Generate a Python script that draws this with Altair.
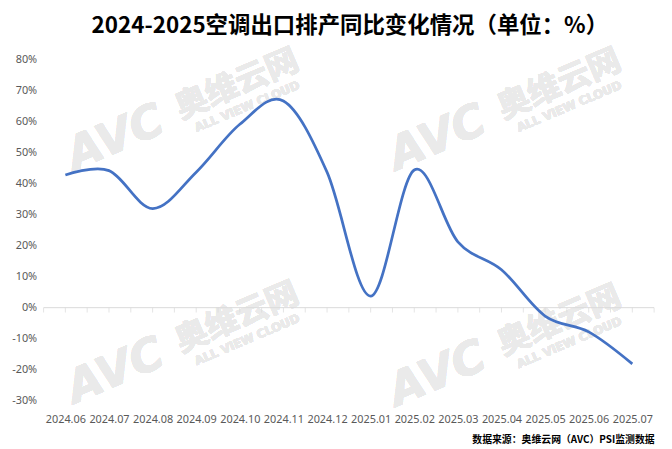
import altair as alt
import pandas as pd

months = ["2024.06", "2024.07", "2024.08", "2024.09", "2024.10", "2024.11", "2024.12",
          "2025.01", "2025.02", "2025.03", "2025.04", "2025.05", "2025.06", "2025.07"]
values = [42.7, 44.1, 31.9, 43.6, 59.0, 66.5, 43.6, 3.7, 44.3, 21.2, 12.2, -2.7, -7.8, -18.1]
y_ticks = [-30, -20, -10, 0, 10, 20, 30, 40, 50, 60, 70, 80]

title_text = "2024-2025空调出口排产同比变化情况（单位：%）"
source_text = "数据来源：奥维云网（AVC）PSI监测数据"

n = len(months)
df = pd.DataFrame({"idx": list(range(n)), "month": months, "value": values})
tick_df = pd.DataFrame({"pos": [i / 2 - 0.5 for i in range(2 * n + 1)], "zero": 0})
zero_df = pd.DataFrame({"x0": [-0.5], "x1": [n - 0.5], "y": [0]})

label_expr = "[" + ",".join("'%s'" % m for m in months) + "][datum.value]"

W, H = 618, 346
xscale = alt.Scale(domain=[-0.5, n - 0.5], nice=False, zero=False)
yscale = alt.Scale(domain=[-30, 80], nice=False)

GREY = "#595959"
AXC = "#D9D9D9"

x_axis = alt.Axis(values=list(range(n)), labelExpr=label_expr,
                  title=source_text, titleAnchor="end", titleAlign="right",
                  titleFontSize=10, titleFontWeight="bold", titleColor="#000000",
                  titleFont="Noto Sans CJK SC", titlePadding=10,
                  grid=False, domain=False, ticks=False,
                  labelFontSize=11, labelColor=GREY, labelFont="Noto Sans",
                  labelPadding=13, labelFlush=False, labelOverlap=False)
y_axis = alt.Axis(values=y_ticks, labelExpr="datum.value + '%'", title=None,
                  grid=False, domain=False, ticks=False,
                  labelFontSize=11, labelColor=GREY, labelFont="Noto Sans",
                  labelPadding=7, labelOverlap=False, labelFlush=False)

line = alt.Chart(df).mark_line(
    interpolate="cardinal", color="#4472C4", strokeWidth=2.75
).encode(
    x=alt.X("idx:Q", scale=xscale, axis=x_axis),
    y=alt.Y("value:Q", scale=yscale, axis=y_axis),
)

zero_rule = alt.Chart(zero_df).mark_rule(color=AXC, strokeWidth=1).encode(
    x=alt.X("x0:Q", scale=xscale, axis=x_axis), x2="x1:Q",
    y=alt.Y("y:Q", scale=yscale, axis=y_axis)
)

ticks = alt.Chart(tick_df).mark_tick(
    orient="vertical", size=5, thickness=1, yOffset=2.5, color=AXC
).encode(x=alt.X("pos:Q", scale=xscale, axis=x_axis),
         y=alt.Y("zero:Q", scale=yscale, axis=y_axis))

# faint watermarks (decorative)
OX, OY = 44, 57
WM = "#EAEAEA"
ANG = 337
wm_layers = []
for cx, cy in [(117, 137), (443, 137), (117, 373), (443, 376)]:
    wm_layers.append(
        alt.Chart(df).mark_text(text="AVC", fontSize=46, fontWeight=900, fontStyle="italic",
                                font="DejaVu Sans", color=WM, angle=ANG,
                                align="center", baseline="middle")
        .encode(x=alt.value(cx - OX), y=alt.value(cy - OY))
    )
    wm_layers.append(
        alt.Chart(df).mark_text(text="奥维云网", fontSize=33, fontWeight="bold",
                                font="Noto Sans CJK SC", color=WM, angle=ANG,
                                align="center", baseline="middle")
        .encode(x=alt.value(cx + 123 - OX), y=alt.value(cy - 54 - OY))
    )
    wm_layers.append(
        alt.Chart(df).mark_text(text="ALL VIEW CLOUD", fontSize=12, fontWeight="bold",
                                font="DejaVu Sans", color=WM, angle=ANG,
                                align="center", baseline="middle")
        .encode(x=alt.value(cx + 133 - OX), y=alt.value(cy - 32 - OY))
    )

chart = alt.layer(*wm_layers, zero_rule, ticks, line).properties(
    width=W, height=H,
    title=alt.TitleParams(title_text, fontSize=22.7, fontWeight="bold",
                          font="Noto Sans CJK SC", color="#000000",
                          anchor="middle", frame="group", offset=7, dx=1),
    autosize="none",
    padding={"left": 36, "top": 49, "right": 10, "bottom": 44},
).configure(background="white").configure_view(stroke=None)

chart.save("out.html", embed_options={"renderer": "svg", "actions": False})
